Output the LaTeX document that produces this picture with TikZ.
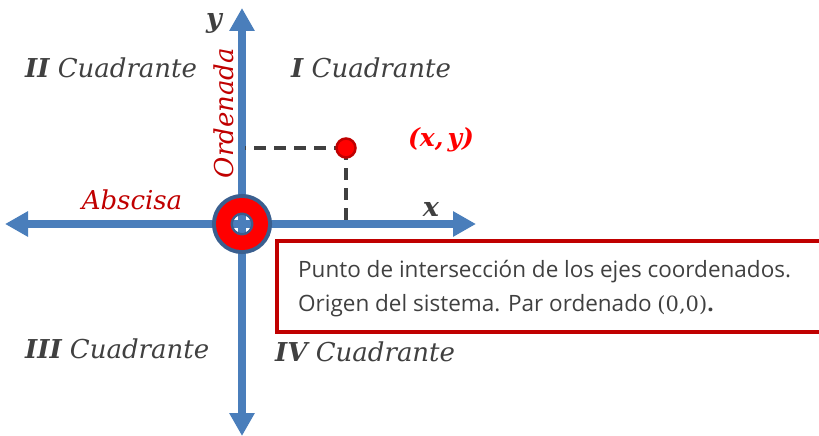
\documentclass[tikz,border=0pt]{standalone}
\usepackage{fontspec}
\newfontfamily\boxfont{Open Sans}
\newfontfamily\serf{DejaVu Serif}
\usetikzlibrary{arrows.meta}
\definecolor{axisblue}{HTML}{4A7EBB}
\definecolor{darkblue}{HTML}{3A5F8F}
\definecolor{txtgray}{HTML}{404040}
\definecolor{darkred}{HTML}{C00000}
\tikzset{
  axis/.style={line width=8pt, axisblue, -{Triangle[length=23pt,width=24pt]}},
  quad/.style={text=txtgray, font=\serf\fontsize{26}{28}\selectfont\itshape, inner sep=0pt},
  redlbl/.style={text=darkred, font=\serf\fontsize{26}{28}\selectfont\itshape, inner sep=0pt},
  guide/.style={txtgray, line width=3.2pt, dash pattern=on 12pt off 8pt},
  boxtext/.style={anchor=west, text=txtgray, font=\boxfont\fontsize{22.5}{24}\selectfont, inner sep=0pt},
}
\begin{document}
\begin{tikzpicture}[x=1pt,y=-1pt]
\useasboundingbox (0,0) rectangle (819,436);
\clip (0,0) rectangle (819,436);
\coordinate (O) at (242,224);
\coordinate (L) at (5,224);
\coordinate (R) at (476,224);
\coordinate (T) at (242,8);
\coordinate (B) at (242,436);
\draw[axis] (O) -- (L);
\draw[axis] (O) -- (R);
\draw[axis] (O) -- (T);
\draw[axis] (O) -- (B);
% origin marker
\draw[darkblue, line width=21pt] (O) circle[radius=19.5pt];
\draw[red, line width=14.5pt] (O) circle[radius=18.75pt];
% point
\coordinate (P) at (346,148);
\coordinate (Py) at (245,148);
\coordinate (Px) at (346,221);
\draw[guide] (P) -- (Py);
\draw[guide] (P) -- (Px);
\node[circle, fill=red, draw=darkred, line width=2.5pt, minimum size=19pt, inner sep=0pt] (pt) at (P) {};
\node[text=red, font=\serf\fontsize{25}{28}\selectfont\bfseries\itshape, inner sep=0pt] (xy) at (441,140) {(x,\,y)};
% axis labels
\node[text=txtgray, font=\serf\fontsize{27}{30}\selectfont\bfseries\itshape, inner sep=0pt] (ylab) at (214,23) {y};
\node[text=txtgray, font=\serf\fontsize{27}{30}\selectfont\bfseries\itshape, inner sep=0pt] (xlab) at (431,209) {x};
\node[redlbl, rotate=90] (ord) at (224,113) {Ordenada};
\node[redlbl] (abs) at (132,200) {Abscisa};
% quadrants
\node[quad, anchor=west] (q1) at (291,68) {\textbf{I} Cuadrante};
\node[quad, anchor=west] (q2) at (25,68) {\textbf{II} Cuadrante};
\node[quad, anchor=west] (q3) at (25,349) {\textbf{III} Cuadrante};
\node[quad, anchor=west] (q4) at (275,352) {\textbf{IV} Cuadrante};
% info box
\draw[darkred, line width=4pt] (277,241) rectangle (840,332);
\node[boxtext] (l1) at (298,272) {Punto de intersección de los ejes coordenados.};
\node[boxtext] (l2) at (298,306) {Origen del sistema. Par ordenado {\serf\fontsize{21}{24}\selectfont (0,0)}\textbf{.}};
\end{tikzpicture}
\end{document}
